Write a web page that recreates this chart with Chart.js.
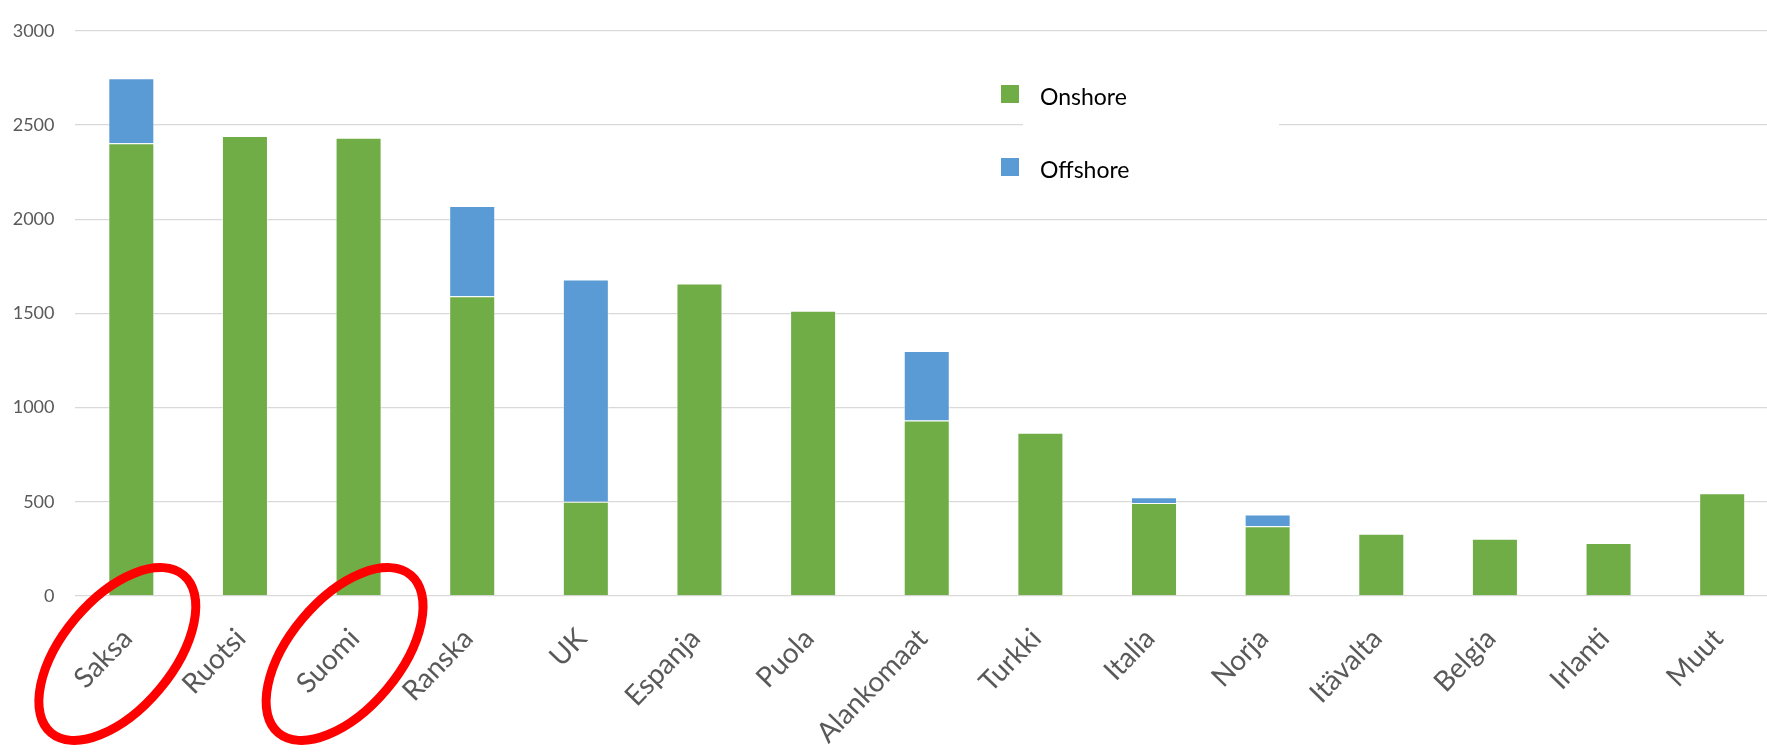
<!DOCTYPE html>
<html>
<head>
<meta charset="utf-8">
<script src="https://cdn.jsdelivr.net/npm/chart.js@4/dist/chart.umd.min.js"></script>
<style>
  html, body { margin: 0; padding: 0; background: #fff; overflow: hidden; }
  #wrap { width: 1779px; height: 752px; }
</style>
</head>
<body>
<div id="wrap"><canvas id="c" width="1779" height="752"></canvas></div>
<script>
const categories = ["Saksa", "Ruotsi", "Suomi", "Ranska", "UK", "Espanja", "Puola", "Alankomaat", "Turkki", "Italia", "Norja", "Itävalta", "Belgia", "Irlanti", "Muut"];
const onshore  = [2403, 2441, 2432, 1591, 500, 1659, 1514, 932, 867, 493, 370, 330, 304, 281, 545];
const offshore = [345, 0, 0, 479, 1180, 0, 0, 368, 0, 31, 62, 0, 0, 0, 0];
const seriesNames = ["Onshore", "Offshore"];
const yTicks = [0, 500, 1000, 1500, 2000, 2500, 3000];
const circled = ["Saksa", "Suomi"];

const legendPlugin = {
  id: 'customLegend',
  afterDraw(chart) {
    const ctx = chart.ctx;
    ctx.save();
    ctx.fillStyle = '#ffffff';
    ctx.fillRect(1023, 60, 256, 140);
    const items = chart.data.datasets;
    const x0 = 1001, ys = [94, 167];
    items.forEach((ds, i) => {
      ctx.fillStyle = ds.backgroundColor;
      ctx.fillRect(x0, ys[i] - 9, 18, 18);
      ctx.fillStyle = '#000000';
      ctx.font = '23px Lato';
      ctx.textBaseline = 'middle';
      ctx.textAlign = 'left';
      ctx.fillText(ds.label, 1040, ys[i] + 4);
    });
    ctx.restore();
  }
};

const circlePlugin = {
  id: 'circles',
  afterDraw(chart) {
    const ctx = chart.ctx;
    const xs = chart.scales.x;
    ctx.save();
    ctx.strokeStyle = '#ff0000';
    ctx.lineWidth = 9;
    circled.forEach(name => {
      const idx = chart.data.labels.indexOf(name);
      const cx = xs.getPixelForValue(idx) - 14;
      const cy = chart.chartArea.bottom + 58;
      ctx.beginPath();
      ctx.ellipse(cx, cy, 103, 55, -50 * Math.PI / 180, 0, Math.PI * 2);
      ctx.stroke();
    });
    ctx.restore();
  }
};

new Chart(document.getElementById('c'), {
  type: 'bar',
  data: {
    labels: categories,
    datasets: [
      { label: seriesNames[0], data: onshore, backgroundColor: '#70AD47', borderColor: 'rgba(255,255,255,0.45)', borderWidth: 1, barPercentage: 0.405, categoryPercentage: 1.0 },
      { label: seriesNames[1], data: offshore, backgroundColor: '#5B9BD5', borderColor: 'rgba(255,255,255,0.45)', borderWidth: 1, barPercentage: 0.405, categoryPercentage: 1.0 }
    ]
  },
  options: {
    responsive: false,
    animation: false,
    devicePixelRatio: 1,
    layout: { padding: { left: 13, top: 21, right: 0, bottom: 0 } },
    plugins: { legend: { display: false }, tooltip: { enabled: false } },
    scales: {
      x: {
        stacked: true,
        grid: { display: false, drawTicks: false },
        border: { display: false },
        ticks: {
          color: '#595959',
          font: { family: 'Lato', size: 28 },
          minRotation: 46, maxRotation: 46,
          padding: 26,
          labelOffset: -4,
          autoSkip: false
        },
        afterFit(scale) {
          scale.height = 156; scale.paddingLeft = 0; scale.paddingRight = 0;
        }
      },
      y: {
        stacked: true,
        min: 0, max: 3000,
        afterBuildTicks(scale) { scale.ticks = yTicks.map(v => ({ value: v })); },
        afterFit(scale) { scale.width = 61.5; },
        grid: { color: '#d9d9d9', lineWidth: 1.3, drawTicks: false },
        border: { display: false },
        ticks: {
          color: '#595959',
          font: { family: 'Lato', size: 18 },
          padding: 20,
          callback: (v) => String(v)
        }
      }
    }
  },
  plugins: [legendPlugin, circlePlugin]
});
</script>
</body>
</html>
